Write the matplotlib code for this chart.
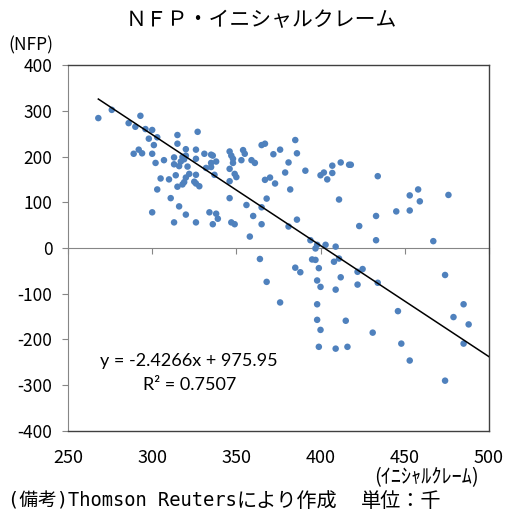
import matplotlib
matplotlib.use("Agg")
import matplotlib.pyplot as plt
import numpy as np

plt.rcParams['font.family'] = ['Noto Sans CJK JP', 'DejaVu Sans']
plt.rcParams['axes.unicode_minus'] = False

# initial claims (thousand)
claims = [268, 276, 286, 290, 293, 296, 300, 298, 301, 303, 289, 292, 294, 300, 302, 307,
          305, 303, 300, 311, 313, 316, 320, 310, 314, 315, 313, 313, 315, 315, 316, 317,
          318, 320, 320, 321, 319, 318, 319, 320, 322, 326, 326, 327, 326, 325, 326, 328,
          326, 331, 332, 334, 335, 336, 335, 335, 338, 337, 338, 339, 336, 346, 347, 348,
          348, 346, 349, 350, 346, 346, 347, 349, 353, 354, 355, 356, 358, 360, 359, 361,
          365, 367, 367, 370, 372, 373, 365, 368, 365, 376,
          385, 386, 381, 379, 391, 382, 386, 381, 400, 402, 404, 407, 407, 412, 417, 418,
          411, 434, 423, 433, 433, 445, 453, 458, 459, 453, 476, 467, 394, 397, 398, 403,
          409, 395, 397, 408, 399, 385, 411, 425, 364,
          388, 368, 376, 398, 400, 409, 412, 422, 422, 434, 398, 398, 400, 399, 409, 416,
          415, 431, 446, 448, 453, 474, 485, 479, 488, 485, 474]
# NFP change (thousand)
nfp = [284, 302, 273, 265, 289, 260, 258, 239, 225, 242, 206, 215, 207, 206, 186, 192,
       152, 128, 78, 109, 56, 91, 73, 150, 159, 134, 198, 183, 247, 228, 179, 189,
       199, 216, 202, 178, 194, 139, 144, 154, 162, 215, 195, 254, 160, 145, 141, 135,
       56, 206, 175, 78, 204, 202, 186, 177, 189, 160, 75, 64, 52, 211, 202, 195,
       186, 173, 162, 155, 146, 109, 56, 52, 192, 214, 206, 94, 25, 70, 192, 186,
       225, 228, 149, 154, 205, 141, 89, 108, 52, 215,
       236, 207, 187, 165, 169, 128, 62, 47, 159, 165, 150, 180, 164, 187, 182, 182,
       106, 157, 48, 70, 17, 80, 115, 128, 102, 82, 116, 15, 17, -1, 7, 7,
       3, -25, -26, -30, -44, -43, -23, -46, -24,
       -53, -74, -119, -71, -85, -91, -64, -52, -80, -76, -123, -157, -179, -216, -220, -216,
       -159, -185, -138, -209, -246, -59, -123, -151, -167, -209, -290]

slope = -2.4266
intercept = 975.95

fig = plt.figure(figsize=(5.05, 5.14), dpi=100)
ax = fig.add_axes([0.1347, 0.1615, 0.8333, 0.712])

ax.scatter(claims, nfp, s=22, color='#4F81BD', edgecolors='none', zorder=3)

xl = np.array([min(claims), 500])
ax.plot(xl, slope * xl + intercept, color='black', lw=1.1, zorder=4)

ax.set_xlim(250, 500)
ax.set_ylim(-400, 400)
ax.set_xticks(np.arange(250, 501, 50))
ax.set_yticks(np.arange(-400, 401, 100))
ax.tick_params(axis='x', length=0, pad=13, labelsize=13)
ax.tick_params(axis='y', length=4.3, width=0.8, color='#868686', pad=7, labelsize=12.5)

for side in ['top', 'right', 'bottom']:
    ax.spines[side].set_color('#404040')
    ax.spines[side].set_linewidth(1.0)
ax.spines['left'].set_color('#868686')

# zero line with tick marks pointing down
zero = ax.secondary_xaxis(0.5)
zero.set_xticks(np.arange(250, 501, 50))
zero.xaxis.set_ticks_position('bottom')
zero.tick_params(axis='x', direction='out', length=4, width=0.8, color='#868686',
                 labelbottom=False, labeltop=False)
zero.spines['bottom'].set_color('#868686')
zero.spines['top'].set_color('#868686')

ax.text(322, -246, 'y = -2.4266x + 975.95', fontsize=13, family='Lato',
        ha='center', va='center')
ax.text(322, -300, 'R² = 0.7507', fontsize=13, family='Lato',
        ha='center', va='center')

fig.text(0.518, 0.961, 'ＮＦＰ・イニシャルクレーム', fontsize=15, ha='center', va='center')
fig.text(0.016, 0.911, '(NFP)', fontsize=12.5, ha='left', va='center')
fig.text(0.845, 0.071, '(ｲﾆｼｬﾙｸﾚｰﾑ)', fontsize=14.5, ha='center', va='center')

mono = ['DejaVu Sans Mono', 'Noto Sans CJK JP']
fig.text(0.016, 0.025, '(備考)Thomson Reuters', fontsize=13.5, family=mono,
         ha='left', va='center')
fig.text(0.469, 0.025, 'により作成', fontsize=14.5, ha='left', va='center')
fig.text(0.715, 0.025, '単位：千', fontsize=14.5, ha='left', va='center')

fig.savefig('out.png', dpi=100)
